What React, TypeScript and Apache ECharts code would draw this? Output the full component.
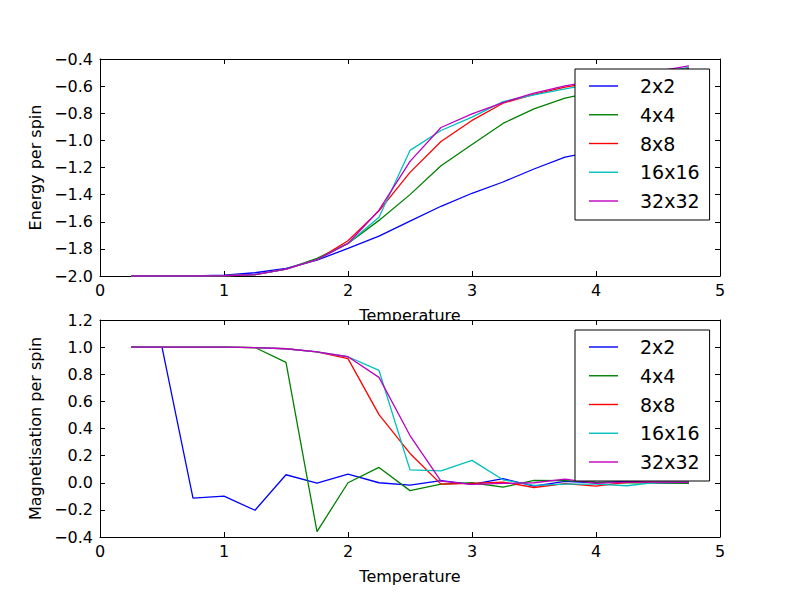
import React, { useEffect, useRef } from "react";
import * as echarts from "echarts";

const temperatures = [0.25, 0.5, 0.75, 1.0, 1.25, 1.5, 1.75, 2.0, 2.25, 2.5, 2.75, 3.0, 3.25, 3.5, 3.75, 4.0, 4.25, 4.5, 4.75];
const sizes = ["2x2", "4x4", "8x8", "16x16", "32x32"];
const colors = ["#0000ff", "#008000", "#ff0000", "#00bfbf", "#bf00bf"];

const energy2 = [-2.0, -2.0, -2.0, -1.993, -1.976, -1.944, -1.883, -1.797, -1.706, -1.596, -1.486, -1.39, -1.307, -1.211, -1.123, -1.08, -1.04, -1.0, -0.97];
const energy4 = [-2.0, -2.0, -2.0, -1.998, -1.99, -1.95, -1.87, -1.76, -1.59, -1.4, -1.187, -1.03, -0.875, -0.768, -0.689, -0.64, -0.6, -0.56, -0.53];
const energy8 = [-2.0, -2.0, -2.0, -1.998, -1.99, -1.95, -1.88, -1.74, -1.52, -1.236, -1.008, -0.853, -0.726, -0.66, -0.608, -0.57, -0.53, -0.5, -0.47];
const energy16 = [-2.0, -2.0, -2.0, -1.998, -1.99, -1.95, -1.88, -1.76, -1.567, -1.074, -0.927, -0.829, -0.714, -0.665, -0.62, -0.58, -0.54, -0.5, -0.461];
const energy32 = [-2.0, -2.0, -2.0, -1.998, -1.99, -1.95, -1.88, -1.76, -1.515, -1.155, -0.905, -0.804, -0.721, -0.652, -0.598, -0.56, -0.52, -0.49, -0.451];

const mag2 = [1.0, 1.0, -0.113, -0.098, -0.203, 0.059, -0.002, 0.064, 0.0, -0.018, 0.015, -0.012, 0.03, -0.025, 0.01, 0.0, 0.01, 0.0, 0.0];
const mag4 = [1.0, 1.0, 1.0, 1.0, 0.997, 0.887, -0.36, 0.0, 0.113, -0.058, -0.01, 0.0, -0.033, 0.017, 0.015, 0.005, 0.0, 0.0, -0.005];
const mag8 = [1.0, 1.0, 1.0, 1.0, 0.997, 0.988, 0.965, 0.915, 0.502, 0.216, -0.01, -0.005, 0.005, -0.035, -0.007, -0.025, 0.003, 0.005, 0.005];
const mag16 = [1.0, 1.0, 1.0, 1.0, 0.997, 0.988, 0.965, 0.929, 0.828, 0.095, 0.088, 0.165, 0.022, -0.02, -0.01, -0.01, -0.022, 0.005, 0.005];
const mag32 = [1.0, 1.0, 1.0, 1.0, 0.997, 0.988, 0.965, 0.929, 0.777, 0.348, 0.012, -0.012, -0.005, 0.0, 0.027, -0.005, 0.005, 0.005, 0.003];

const energySeries = [energy2, energy4, energy8, energy16, energy32];
const magSeries = [mag2, mag4, mag8, mag16, mag32];

const FONT = "DejaVu Sans";

const fmtY = (v: number) => {
  const r = Math.round(v * 10) / 10;
  return (r < 0 ? "\u2212" : "") + Math.abs(r).toFixed(1);
};

function makeAxes(gridIndex: number, yMin: number, yMax: number, yName: string) {
  const tick = { show: true, inside: true, length: 5, lineStyle: { color: "#000", width: 1 } };
  const line = { show: true, onZero: false, lineStyle: { color: "#000", width: 1 } };
  const xMain = {
    type: "value", gridIndex, min: 0, max: 5, interval: 1, position: "bottom",
    axisLine: line, axisTick: tick, splitLine: { show: false },
    axisLabel: { show: true, margin: 6, color: "#000", fontFamily: FONT, fontSize: 16 },
    name: "Temperature", nameLocation: "middle", nameGap: 31,
    nameTextStyle: { color: "#000", fontFamily: FONT, fontSize: 16 },
  };
  const xTop = {
    type: "value", gridIndex, min: 0, max: 5, interval: 1, position: "top",
    axisLine: line, axisTick: tick, splitLine: { show: false }, axisLabel: { show: false },
  };
  const yMain = {
    type: "value", gridIndex, min: yMin, max: yMax, interval: 0.2, position: "left",
    axisLine: line, axisTick: tick, splitLine: { show: false },
    axisLabel: { show: true, margin: 7, color: "#000", fontFamily: FONT, fontSize: 16, formatter: fmtY },
    name: yName, nameLocation: "middle", nameGap: 57, nameRotate: 90,
    nameTextStyle: { color: "#000", fontFamily: FONT, fontSize: 16 },
  };
  const yRight = {
    type: "value", gridIndex, min: yMin, max: yMax, interval: 0.2, position: "right",
    axisLine: line, axisTick: tick, splitLine: { show: false }, axisLabel: { show: false },
  };
  return { x: [xMain, xTop], y: [yMain, yRight] };
}

function makeLegend(top: number) {
  return {
    orient: "vertical", left: 575, top,
    data: sizes,
    icon: "rect",
    backgroundColor: "#fff", borderColor: "#000", borderWidth: 1, borderRadius: 0,
    padding: [7, 10, 9, 14],
    itemWidth: 29, itemHeight: 1.4, itemGap: 8.75,
    textStyle: { color: "#000", fontFamily: FONT, fontSize: 19, lineHeight: 20, padding: [0, 0, 0, 17] },
    z: 10,
  };
}

export default function App() {
  const ref = useRef<HTMLDivElement>(null);
  useEffect(() => {
    if (!ref.current) return;
    const chart = echarts.init(ref.current, undefined, { renderer: "svg" });
    const a0 = makeAxes(0, -2.0, -0.4, "Energy per spin");
    const a1 = makeAxes(1, -0.4, 1.2, "Magnetisation per spin");
    const series: any[] = [];
    sizes.forEach((name, i) => {
      series.push({
        type: "line", name, xAxisIndex: 0, yAxisIndex: 0, symbol: "none", showSymbol: false,
        lineStyle: { color: colors[i], width: 1.3 }, itemStyle: { color: colors[i] },
        data: temperatures.map((t, k) => [t, energySeries[i][k]]),
      });
    });
    sizes.forEach((name, i) => {
      series.push({
        type: "line", name, xAxisIndex: 2, yAxisIndex: 2, symbol: "none", showSymbol: false,
        lineStyle: { color: colors[i], width: 1.3 }, itemStyle: { color: colors[i] },
        data: temperatures.map((t, k) => [t, magSeries[i][k]]),
      });
    });
    chart.setOption({
      animation: false,
      backgroundColor: "#fff",
      grid: [
        { left: 100, width: 620, top: 59, height: 217, containLabel: false },
        { left: 100, width: 620, top: 320, height: 217, containLabel: false },
      ],
      xAxis: [...a0.x, ...a1.x],
      yAxis: [...a0.y, ...a1.y],
      legend: [makeLegend(69), makeLegend(330)],
      graphic: [
        {
          type: "rect", z: 100,
          shape: { x: 352, y: 321, width: 116, height: 12 },
          style: { fill: "#fff" },
        },
      ],
      series,
    });
    return () => chart.dispose();
  }, []);
  return (
    <div
      ref={ref}
      style={{ position: "absolute", left: 0, top: 0, width: 800, height: 597 }}
    />
  );
}
